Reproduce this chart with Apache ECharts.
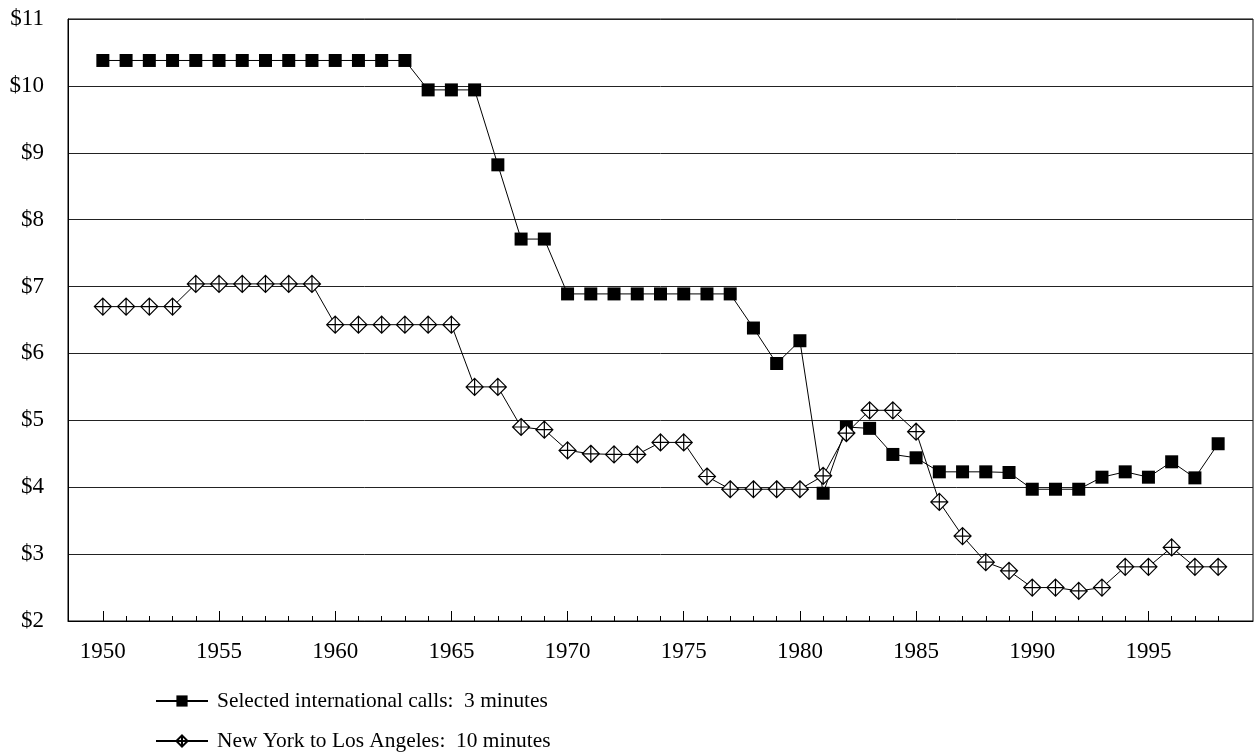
<!DOCTYPE html>
<html><head><meta charset="utf-8">
<script src="https://cdn.jsdelivr.net/npm/echarts@6/dist/echarts.min.js"></script>
<style>html,body{margin:0;padding:0;background:#fff}#c{width:1257px;height:753px}</style>
</head><body><div id="c"></div>
<script>
var years = [];
for (var y = 1950; y <= 1998; y++) years.push(String(y));

var intlCalls = [10.38,10.38,10.38,10.38,10.38,10.38,10.38,10.38,10.38,10.38,10.38,10.38,10.38,10.38,
  9.94,9.94,9.94,8.82,7.71,7.71,
  6.89,6.89,6.89,6.89,6.89,6.89,6.89,6.89,
  6.38,5.85,6.19,3.91,4.90,4.88,4.49,4.44,
  4.23,4.23,4.23,4.22,3.97,3.97,3.97,4.15,4.23,4.15,4.38,4.14,4.65];

var nyLa = [6.70,6.70,6.70,6.70,
  7.04,7.04,7.04,7.04,7.04,7.04,
  6.43,6.43,6.43,6.43,6.43,6.43,
  5.50,5.50,4.90,4.86,4.55,4.50,4.49,4.49,4.67,4.67,4.16,
  3.97,3.97,3.97,3.97,4.17,4.81,5.15,5.15,4.83,3.78,3.27,2.88,2.75,
  2.50,2.50,2.45,2.50,2.81,2.81,3.10,2.81,2.81];

var yTicks = [2,3,4,5,6,7,8,9,10,11];
var seriesNames = ['Selected international calls:  3 minutes', 'New York to Los Angeles:  10 minutes'];

// pad one empty slot at each end of the category axis
var cats = ['1949'].concat(years, ['1999']);
function pad(a){ return [null].concat(a, [null]); }

var FONT = 'Liberation Serif';
var diamond = 'path://M0,-8L8,0L0,8L-8,0Z M0,-8L0,8 M-8,0L8,0';

var chart = echarts.init(document.getElementById('c'), null, {renderer:'canvas'});
chart.setOption({
  animation: false,
  backgroundColor: '#fff',
  textStyle: {fontFamily: FONT, color: '#000'},
  grid: {left: 68, right: 4, top: 19, bottom: 132, show: true, borderColor: '#000', borderWidth: 1},
  legend: {
    orient: 'vertical', left: 155, top: 689, itemGap: 16, padding: 0,
    itemWidth: 52, itemHeight: 14,
    textStyle: {fontFamily: FONT, fontSize: 21.4, lineHeight: 24, color: '#000', padding: [0,0,0,4]},
    data: seriesNames
  },
  xAxis: [{
    type: 'category', data: cats, boundaryGap: true,
    axisLine: {show: true, lineStyle: {color: '#000', width: 1}},
    axisTick: {show: true, inside: true, length: 5, alignWithLabel: true,
      interval: function(i, v){ return v !== '1949' && v !== '1999'; },
      lineStyle: {color: '#000'}},
    axisLabel: {fontFamily: FONT, fontSize: 23, color: '#000', margin: 19,
      interval: function(i, v){ return v !== '1949' && v !== '1999' && (+v) % 5 === 0; }},
    splitLine: {show: false}
  }, {
    type: 'category', data: cats, boundaryGap: true, position: 'bottom',
    axisLine: {show: false},
    axisTick: {show: true, inside: true, length: 10, alignWithLabel: true,
      interval: function(i, v){ return v !== '1949' && v !== '1999' && (+v) % 5 === 0; },
      lineStyle: {color: '#000'}},
    axisLabel: {show: false},
    splitLine: {show: false}
  }],
  yAxis: {
    type: 'value', min: yTicks[0], max: yTicks[yTicks.length-1], interval: 1,
    axisLine: {show: true, lineStyle: {color: '#000'}},
    axisTick: {show: false},
    axisLabel: {fontFamily: FONT, fontSize: 23, color: '#000', margin: 24,
      formatter: function(v){ return '$' + v; }},
    splitLine: {show: true, lineStyle: {color: '#222', width: 1}}
  },
  series: [{
    name: seriesNames[0], type: 'line', data: pad(intlCalls),
    symbol: 'rect', symbolSize: 13, showAllSymbol: true,
    lineStyle: {color: '#000', width: 1},
    itemStyle: {color: '#000', borderColor: '#000', borderWidth: 0}
  }, {
    name: seriesNames[1], type: 'line', data: pad(nyLa),
    symbol: diamond, symbolSize: 17, showAllSymbol: true,
    lineStyle: {color: '#000', width: 1},
    itemStyle: {color: '#fff', borderColor: '#000', borderWidth: 1.2}
  }]
});
</script>
</body></html>
